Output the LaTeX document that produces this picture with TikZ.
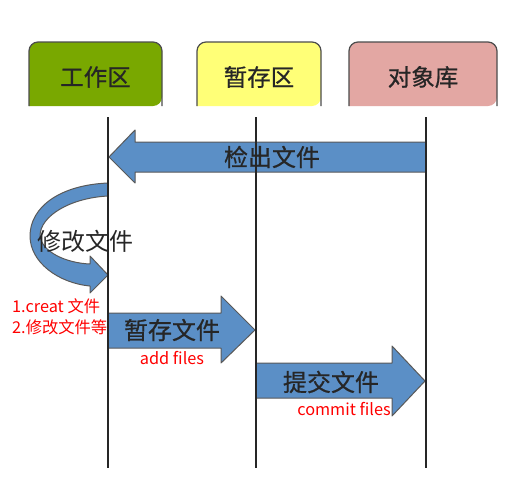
\documentclass[tikz,border=0pt]{standalone}
\usepackage{fontspec}
\setmainfont{Noto Sans CJK SC}
\newfontfamily\cjkmed[FakeBold=0.7]{Noto Sans CJK SC}
\begin{document}
\begin{tikzpicture}[x=1pt,y=-1pt,
  boxline/.style={draw=black!70,line width=1.2pt,rounded corners=9pt},
  lifeline/.style={draw=black!85,line width=1.8pt},
  bluearrow/.style={fill=arrowblue,draw=black!65,line width=1pt,line join=round},
  boxlabel/.style={font=\cjkmed\fontsize{23.5}{26}\selectfont,text=black!85},
  arrowlabel/.style={font=\cjkmed\fontsize{24}{26}\selectfont,text=black!85},
  redlabel/.style={font=\fontsize{16.3}{18}\selectfont,text=red,inner sep=0pt}]
\definecolor{arrowblue}{HTML}{5B8FC6}
\definecolor{wgreen}{HTML}{79A800}
\definecolor{syellow}{HTML}{FFFF77}
\definecolor{rpink}{HTML}{E3A7A3}
\path[fill=white] (0,0) rectangle (508,482);
\useasboundingbox (0,0) rectangle (508,482);
% boxes
\fill[wgreen,rounded corners=9pt] (29,106) -- (29,42) -- (162,42) -- (162,106) [sharp corners]-- cycle;
\draw[boxline] (29,106) -- (29,42) -- (162,42) -- (162,106);
\fill[syellow,rounded corners=9pt] (197,106) -- (197,42) -- (321,42) -- (321,106) [sharp corners]-- cycle;
\draw[boxline] (197,106) -- (197,42) -- (321,42) -- (321,106);
\fill[rpink,rounded corners=9pt] (349,106) -- (349,42) -- (497,42) -- (497,106) [sharp corners]-- cycle;
\draw[boxline] (349,106) -- (349,42) -- (497,42) -- (497,106);
\node[boxlabel] (work) at (95.5,77) {工作区};
\node[boxlabel] (stage) at (259,77) {暂存区};
\node[boxlabel] (repo) at (423,77) {对象库};
% lifeline coordinates
\coordinate (w1) at (108,117); \coordinate (w2) at (108,468);
\coordinate (s1) at (256,117); \coordinate (s2) at (256,468);
\coordinate (r1) at (426,117); \coordinate (r2) at (426,468);
% checkout arrow
\draw[bluearrow] (426,142) -- (135,142) -- (135,130) -- (109,157) -- (135,183) -- (135,172) -- (426,172) -- cycle;
% curved arrow
\draw[bluearrow] (108,183) .. controls (60,185) and (30,207) .. (30,236)
  .. controls (30,262) and (58,283) .. (90,286) -- (90,293) -- (108,275) -- (90,256) -- (90,264)
  .. controls (66,263) and (42,252) .. (40,236)
  .. controls (40,216) and (70,198) .. (108,196) -- cycle;
% add arrow
\draw[bluearrow] (108,313) -- (221,313) -- (221,296) -- (255,330) -- (221,363) -- (221,348) -- (108,348) -- cycle;
% commit arrow
\draw[bluearrow] (256,363) -- (392,363) -- (392,346) -- (425,381) -- (392,416) -- (392,398) -- (256,398) -- cycle;
% lifelines
\draw[lifeline] (w1) -- (w2);
\draw[lifeline] (s1) -- (s2);
\draw[lifeline] (r1) -- (r2);
% labels
\node[arrowlabel] (checkout) at (272,157) {检出文件};
\node[boxlabel,font=\fontsize{24}{26}\selectfont] (modify) at (85,241) {修改文件};
\node[arrowlabel] (addl) at (172,330) {暂存文件};
\node[arrowlabel] (commitl) at (331,382) {提交文件};
\node[redlabel,anchor=west] (r1t) at (12,306) {1.creat 文件};
\node[redlabel,anchor=west] (r2t) at (12,327) {2.修改文件等};
\node[redlabel] (addf) at (172,358) {add files};
\node[redlabel] (comf) at (344,409) {commit files};
\end{tikzpicture}
\end{document}
